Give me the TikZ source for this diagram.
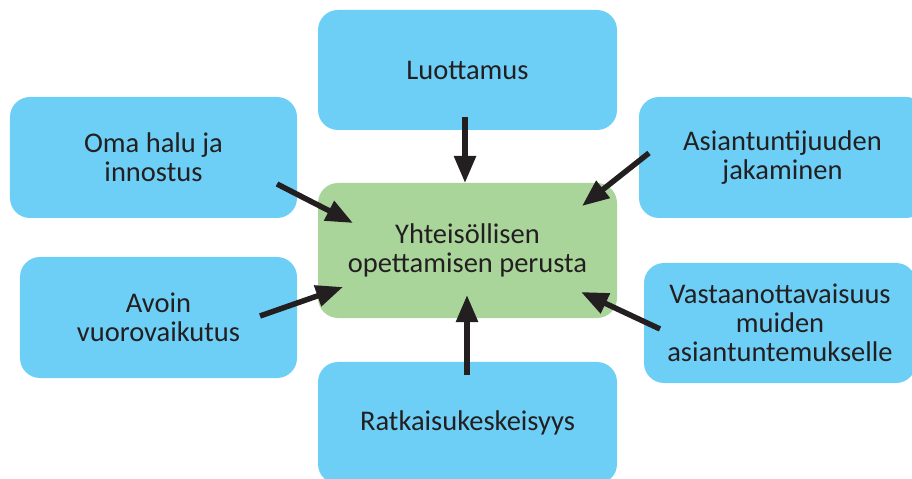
\documentclass[tikz,border=0pt]{standalone}
\usepackage{fontspec}
\setmainfont{Carlito}
\usetikzlibrary{arrows.meta}
\definecolor{boxblue}{RGB}{109,207,246}
\definecolor{boxgreen}{RGB}{169,213,155}
\definecolor{inkdark}{RGB}{35,31,32}
\begin{document}
\begin{tikzpicture}[x=1bp,y=-1bp,
  box/.style={rectangle, rounded corners=20bp, fill=boxblue, inner sep=0pt,
    align=center, text=inkdark, font=\fontsize{28.5bp}{29bp}\selectfont},
  hub/.style={box, fill=boxgreen},
  push/.style={draw=inkdark, line width=5.5bp, -{Triangle[length=27bp,width=21bp]}}]
\useasboundingbox (0,0) rectangle (912,479);
\clip (0,0) rectangle (912,479);

% surrounding factors
\node[box, minimum width=299bp, minimum height=120bp] (luot) at (467.5,70) {Luottamus};
\node[box, minimum width=287bp, minimum height=121bp] (oma) at (153.5,157.5) {Oma halu ja\\innostus};
\node[box, minimum width=287bp, minimum height=121bp] (asi) at (782.5,157.5) {Asiantuntijuuden\\jakaminen};
\node[box, minimum width=277bp, minimum height=121bp] (avo) at (158.5,317.5) {Avoin\\vuorovaikutus};
\node[box, minimum width=272bp, minimum height=120bp] (vas) at (780,323) {Vastaanottavaisuus\\muiden\\asiantuntemukselle};
\node[box, minimum width=299bp, minimum height=122bp] (rat) at (467.5,423) {Ratkaisukeskeisyys};

% central concept
\node[hub, minimum width=299bp, minimum height=135bp] (hub) at (467.5,250.5) {Yhteisöllisen\\opettamisen perusta};

% arrow end points
\coordinate (luotS) at (465,117);  \coordinate (luotE) at (465,183);
\coordinate (ratS)  at (467,375);  \coordinate (ratE)  at (467,295);
\coordinate (omaS)  at (277,184);  \coordinate (omaE)  at (353,223);
\coordinate (asiS)  at (649,153);  \coordinate (asiE)  at (582,206);
\coordinate (avoS)  at (260,316);  \coordinate (avoE)  at (343,287);
\coordinate (vasS)  at (660,329);  \coordinate (vasE)  at (581,292);

\draw[push] (luotS) -- (luotE);
\draw[push] (ratS) -- (ratE);
\draw[push] (omaS) -- (omaE);
\draw[push] (asiS) -- (asiE);
\draw[push] (avoS) -- (avoE);
\draw[push] (vasS) -- (vasE);
\end{tikzpicture}
\end{document}
